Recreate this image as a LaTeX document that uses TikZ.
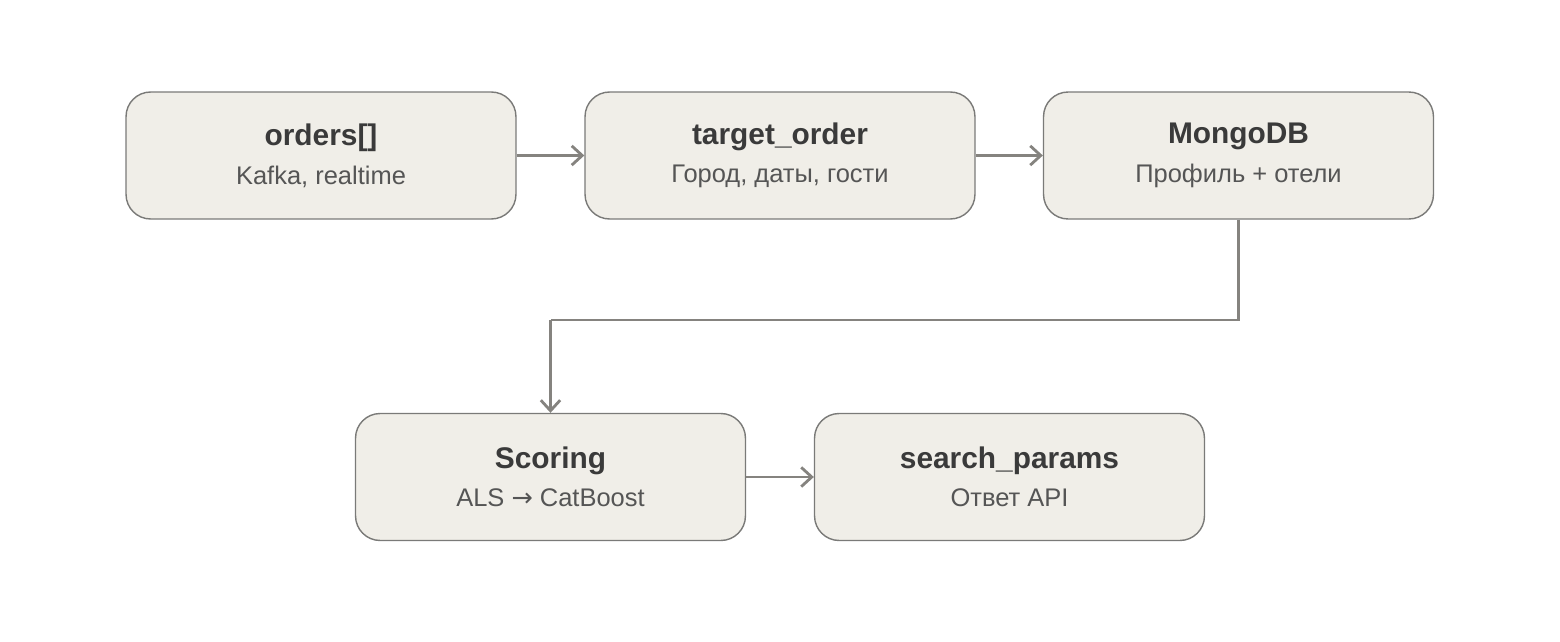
\documentclass[tikz,border=0pt]{standalone}
\usepackage{fontspec}
\setmainfont{Liberation Sans}
\newfontfamily\arrowfont{DejaVu Sans}
\usetikzlibrary{arrows.meta}
\definecolor{boxfill}{HTML}{F0EEE8}
\definecolor{boxline}{HTML}{7A7A78}
\definecolor{linkgray}{HTML}{85837F}
\definecolor{textdark}{HTML}{3A3A3A}
\definecolor{textsub}{HTML}{555555}
\tikzset{
  stage/.style={draw=boxline, line width=0.8pt, fill=boxfill, rounded corners=14pt,
    minimum width=7.8cm, minimum height=2.54cm, align=center, text=textdark},
  link/.style={draw=linkgray, line width=1.6pt, -{Straight Barb[length=6pt,width=11pt]}}
}
\newcommand{\stagetext}[2]{{\fontsize{17}{20}\selectfont\bfseries #1}\\[7pt]{\fontsize{14.5}{17}\selectfont\color{textsub}#2}}
\begin{document}
\begin{tikzpicture}[x=0.02cm,y=-0.02cm]
            % Canvas
            \useasboundingbox[fill=white] (0,0) rectangle (1560,642);

            % Top row
            \node[stage] (orders) at (321,155.5) {\stagetext{orders[]}{Kafka, realtime}};
            \node[stage] (target) at (780,155.5) {\stagetext{target\_order}{Город, даты, гости}};
            \node[stage] (mongo) at (1238.5,155.5) {\stagetext{MongoDB}{Профиль + отели}};

            % Bottom row
            \node[stage] (scoring) at (550.5,477) {\stagetext{Scoring}{ALS {\arrowfont →} CatBoost}};
            \node[stage] (search) at (1009.5,477) {\stagetext{search\_params}{Ответ API}};

            \coordinate (bendR) at (1238.5,320);
            \coordinate (bendL) at (550.5,320);

            % The links
            \draw[link] (orders) -- (target);
            \draw[link] (target) -- (mongo);
            \draw[link, -] (mongo) -- (bendR) -- (bendL);
            \draw[link] (bendL) -- (scoring);
            \draw[link] (scoring) -- (search);
\end{tikzpicture}
\end{document}
